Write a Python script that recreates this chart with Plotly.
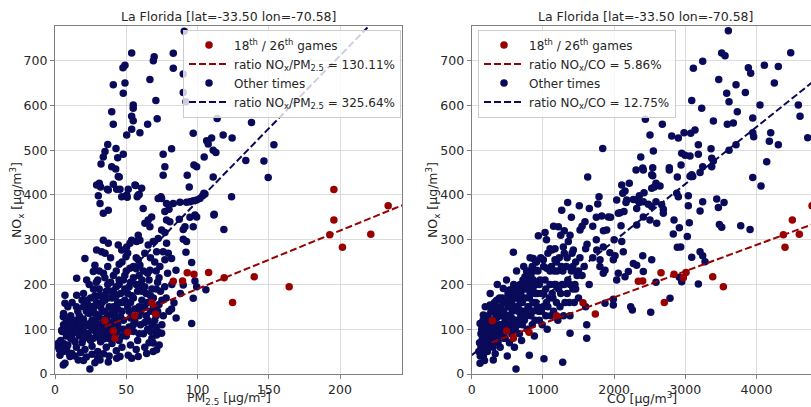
import plotly.graph_objects as go

# ---------------- data ----------------
title_text = "La Florida [lat=-33.50 lon=-70.58]"
xlabel_pm = "PM<sub>2.5</sub> [µg/m<sup>3</sup>]"
xlabel_co = "CO [µg/m<sup>3</sup>]"
ylabel = "NO<sub>x</sub> [µg/m<sup>3</sup>]"

# games (18th / 26th) : NOx, PM2.5, CO
game_nox = [412, 376, 344, 311, 312, 283, 217, 215, 195, 227, 223, 226, 208, 207, 160, 159, 134, 130, 119, 96, 93, 80]
game_pm25 = [195.7, 233.8, 195.7, 192.8, 221.6, 201.7, 139.8, 118.7, 164.3, 107.8, 97.5, 92.8, 89.5, 83, 124.6, 68, 70.6, 55.9, 35, 40.9, 51, 42]
game_co = [5000, 4780, 4503, 4377, 4601, 4400, 3385, 2972, 3534, 3010, 2841, 2659, 2401, 2340, 2705, 1563, 1736, 1193, 290, 491, 805, 585]

# other times, PM2.5 panel: (PM2.5, NOx)
other_pm_points = [
    (90.7, 766), (53.8, 717), (83, 716.5), (69.6, 709), (69, 700), (49.1, 690), (47.7, 684), (83, 683), (90, 670),
    (66.6, 658), (40.9, 646), (49.1, 650), (47.9, 627), (90, 629), (70.8, 611), (91.9, 608), (54.9, 601), (54.9, 594),
    (39.8, 586), (53.8, 576), (54.9, 566), (40.9, 558), (65, 558), (71.7, 570), (53.8, 547), (59.6, 539), (50.3, 534),
    (97, 538), (113.8, 571), (124.3, 527), (118, 534), (137.9, 562), (37, 513), (42.8, 504), (35.1, 497), (33.9, 485),
    (47.9, 491), (44, 483), (32.3, 469), (39.8, 463), (42.6, 458), (45.1, 440), (31.1, 426), (32, 418), (36.7, 413),
    (40.9, 424), (43.3, 413), (45.6, 413), (51.4, 413), (56.6, 421), (60.8, 415), (75.9, 491), (81.8, 503), (77.1, 463),
    (75.9, 444), (92.8, 444), (94.2, 418), (97.5, 467), (99.4, 463), (104.7, 485), (106.4, 521), (107.5, 514),
    (109.9, 527), (111, 500), (112.9, 495), (105.2, 402), (111, 440), (123.9, 396), (50.7, 395), (57.7, 396),
    (59.1, 401), (30.4, 398), (74.3, 396), (153.6, 512), (133.9, 477), (146.6, 476), (149.6, 439), (104.5, 404),
    (101.7, 392), (111.5, 355),
    (118.5, 323), (111.7, 357), (103.6, 398), (99.4, 389), (95.9, 113), (105.9, 188), (97, 169), (83.5, 159),
    (81.8, 145), (98.2, 208), (99.4, 195), (90, 199), (95.9, 249), (84.9, 232), (91.9, 272), (92.3, 296), (90, 301),
    (97, 329), (99.4, 351), (98.2, 355), (94.7, 350), (92.3, 384), (94.7, 385), (97, 387), (87.7, 384), (83, 381),
    (78.3, 381), (74.8, 392), (72.4, 392), (80, 368), (77.1, 363), (87.2, 346), (91.2, 329), (90, 323), (78.3, 344),
    (80.6, 340), (74.8, 322), (77.1, 316), (67.8, 351), (65.4, 344), (63.1, 337), (58.4, 310), (59.6, 299),
    (57.3, 296), (53.8, 299), (52.6, 292), (50.3, 284), (66.6, 329), (72.4, 303), (68.9, 296), (65.4, 288),
    (71.3, 273), (75.9, 273), (78.3, 292), (79.5, 270), (81.8, 258), (77.1, 255), (73.6, 240), (66.6, 232),
    (58.4, 255), (59.6, 243), (52.6, 236), (49.8, 262), (46.8, 277), (44.4, 288), (33.9, 299), (37.4, 292),
    (32.7, 273), (35.1, 270), (29.2, 277), (28, 243), (21, 258), (26.9, 229), (22.2, 210), (15.2, 214), (15.2, 176),
    (33.9, 359), (37.4, 366), (31.6, 381), (29.2, 422), (37.4, 411), (44.4, 441), (46.8, 396), (50.3, 400),
    (56.1, 422), (58.4, 400), (61.9, 370), (7, 176), (7, 158), (5.8, 128), (4.7, 98), (2.3, 69), (5.8, 50), (7, 24),
    (10.5, 39), (24.5, 11), (5.8, 20), (37.4, 27), (51.4, 42), (53.8, 35), (64.3, 46), (68.9, 50), (71.3, 54),
    (73.1, 65), (74.8, 91), (68.9, 69), (71.3, 87), (58.4, 39), (43.3, 35), (45.6, 39), (31.6, 31), (16.3, 31),
    (11.7, 46), (8.2, 54), (3.5, 42), (2.3, 61),
    (4, 75), (5, 95), (6, 110), (8, 85), (8, 120), (9, 65), (10, 100), (11, 130), (12, 78), (13, 92), (14, 112),
    (15, 60), (16, 140), (17, 85), (18, 102), (19, 70), (20, 122), (21, 55), (22, 90), (23, 108), (24, 135),
    (25, 75), (26, 62), (27, 98), (28, 118), (29, 84), (30, 50), (31, 128), (32, 72), (33, 105), (34, 92), (35, 140),
    (36, 60), (37, 80), (38, 115), (39, 100), (40, 68), (41, 130), (42, 88), (43, 52), (44, 110), (45, 75), (10, 45),
    (14, 40), (18, 48), (22, 38), (26, 44), (30, 35), (34, 45), (38, 40), (6, 135), (9, 150), (12, 160), (15, 150),
    (19, 165), (23, 155), (27, 148), (3, 55), (7, 58), (20, 30), (28, 25),
    (20, 180), (22, 165), (24, 200), (26, 150), (28, 175), (30, 210), (31, 190), (33, 140), (34, 225), (35, 165),
    (36, 185), (37, 240), (38, 150), (39, 205), (40, 170), (41, 220), (42, 135), (43, 195), (44, 160), (45, 245),
    (46, 180), (47, 140), (48, 210), (49, 165), (50, 230), (51, 150), (52, 195), (53, 125), (54, 175), (55, 215),
    (56, 145), (57, 260), (58, 185), (59, 130), (60, 200), (61, 165), (62, 230), (63, 150), (64, 180), (65, 120),
    (66, 210), (67, 140), (68, 190), (69, 170), (70, 250), (71, 130), (72, 205), (73, 155), (74, 185), (75, 110),
    (78, 170), (80, 140), (82, 200), (85, 125), (88, 180), (45, 100), (48, 120), (50, 85), (52, 105), (55, 95),
    (58, 75), (60, 110), (62, 90), (65, 100), (68, 80), (70, 120), (72, 95), (47, 60), (53, 65), (57, 55), (63, 60),
    (66, 70), (26, 120), (30, 130), (34, 118), (38, 132), (42, 122), (46, 128),
    (12, 105), (16, 118), (20, 95), (24, 82), (28, 105), (32, 88), (36, 98), (40, 110), (18, 125), (22, 140),
    (26, 100), (30, 112), (34, 78), (38, 90), (14, 72), (10, 88), (6, 68), (16, 100), (20, 78), (24, 112),
    (29, 160), (33, 175), (37, 200), (41, 185), (45, 210), (49, 190), (53, 160), (57, 200), (61, 185), (65, 160),
    (31, 230), (39, 260), (43, 230), (47, 250), (51, 270), (55, 240), (59, 220), (63, 270), (67, 260), (71, 230),
    (25, 170), (27, 190), (29, 205), (31, 175), (33, 160), (35, 215), (37, 170), (39, 185), (41, 150), (43, 175),
    (45, 200), (47, 160), (49, 220), (51, 180), (53, 205), (55, 170), (57, 235), (59, 150), (61, 210), (63, 195),
    (65, 225), (67, 175), (69, 150), (71, 190), (73, 215), (75, 165), (77, 195), (79, 225), (56, 120), (60, 140),
    (64, 130), (68, 110), (72, 140), (76, 130), (44, 145), (48, 100), (52, 140), (36, 125), (40, 145), (32, 150),
    (28, 135), (24, 145), (20, 150), (17, 130), (13, 120), (9, 110), (7, 95), (11, 80), (15, 95), (19, 110),
    (23, 90), (27, 80), (31, 95), (35, 105), (39, 80), (43, 95), (47, 85), (51, 95), (55, 110), (59, 90), (63, 115),
    (67, 95), (71, 105),
]

# other times, CO panel: (CO, NOx)
other_co_points = [
    (3604, 767), (3511, 717), (3558, 711), (3244, 699), (3113, 683), (3469, 658), (3581, 627), (3614, 608),
    (3090, 611), (3230, 594), (3394, 565), (3590, 558), (2439, 569), (2677, 558), (2809, 532), (2902, 527),
    (2982, 539), (3076, 538), (3136, 545), (2504, 534), (3183, 512), (3361, 503), (3614, 500), (1840, 504),
    (2551, 498), (2949, 493), (2996, 489), (3066, 487), (3183, 491), (3371, 482), (2374, 485), (2940, 467),
    (3244, 463), (3371, 463), (2402, 460), (2542, 461), (2775, 461), (2308, 456), (1629, 440), (2542, 443),
    (2888, 440), (3090, 445), (3104, 441), (2107, 422), (2213, 426), (2588, 426), (2645, 420), (2565, 418),
    (2153, 409), (2121, 404), (2354, 398), (2420, 405), (2528, 415), (2879, 404), (2902, 396), (3042, 398),
    (1788, 396), (2177, 389), (2167, 383), (2036, 389), (1770, 380), (1652, 370), (1511, 376), (1348, 383),
    (1264, 366), (2317, 389), (2354, 383), (2317, 370), (2480, 379), (2588, 385), (2691, 368), (3042, 376),
    (3244, 385), (3441, 391), (3544, 383), (3207, 364), (3464, 372), (2083, 360), (1826, 353), (1919, 351),
    (4480, 718), (4110, 690), (4306, 687), (3885, 684), (3918, 672), (4250, 650), (3712, 646), (3843, 629),
    (3730, 586), (4049, 601), (4587, 601), (4611, 576), (3947, 572), (3674, 561), (4719, 528), (4199, 539),
    (4180, 520), (4306, 512), (3947, 539), (3960, 530), (3712, 512), (3394, 476), (4143, 474), (3947, 439),
    (4063, 420),
    (2410, 456), (2528, 445), (2775, 456), (3066, 442), (3207, 450), (3056, 338), (3028, 307), (2916, 327),
    (2935, 284), (2841, 344), (2831, 313), (3478, 334), (3511, 328), (3778, 331), (3909, 323), (3207, 273),
    (3244, 264), (3090, 261), (3277, 251), (3183, 201), (2888, 283), (2916, 216), (2949, 206), (2785, 169),
    (2514, 138), (2256, 143), (2588, 205), (2270, 247), (2317, 243), (2402, 264), (2410, 229), (2528, 255),
    (2097, 331), (2107, 296), (2129, 273), (2200, 229), (2153, 217), (2059, 225), (1989, 255), (2013, 264),
    (1941, 271), (1896, 322), (1848, 284), (1756, 277), (1802, 255), (1872, 232), (2059, 359), (2139, 363),
    (2270, 390), (2410, 385), (2528, 374), (2410, 351), (2691, 359), (2668, 378), (2504, 344), (2598, 337),
    (2317, 333), (1848, 225), (1989, 167), (1872, 158), (1989, 154), (2036, 210), (1615, 110), (1615, 80),
    (1381, 91), (1278, 26), (1015, 34), (809, 42), (622, 11), (2233, 150),
    (585, 272), (936, 309), (1030, 316), (1217, 329), (1591, 340), (1521, 322), (1381, 310), (1357, 296),
    (1427, 277), (1287, 284), (1170, 255), (1124, 277), (865, 258), (1006, 255), (1053, 236), (913, 232),
    (749, 217), (865, 210), (678, 195), (538, 188), (444, 191), (351, 165), (257, 154), (163, 132), (117, 113),
    (211, 106), (140, 69), (163, 39), (303, 31), (117, 24),
    (1050, 300), (1150, 330), (1250, 310), (1400, 350), (1550, 330), (1700, 330), (1850, 320), (1950, 350),
    (2000, 300), (1100, 280), (1300, 320), (1600, 280), (1750, 350),
    (120, 40), (150, 60), (180, 30), (200, 80), (220, 50), (250, 100), (280, 70), (300, 120), (330, 45), (350, 90),
    (380, 140), (400, 60), (420, 110), (450, 80), (480, 160), (500, 40), (520, 130), (550, 95), (580, 180),
    (600, 60), (620, 150), (650, 110), (680, 200), (700, 75), (720, 140), (750, 170), (780, 100), (800, 210),
    (830, 130), (860, 190), (880, 85), (900, 160), (930, 230), (950, 120), (980, 180), (1000, 150), (1030, 210),
    (1060, 100), (1090, 170), (1120, 240), (1150, 140), (1180, 200), (1210, 120), (1250, 180), (1280, 230),
    (1310, 160), (1350, 210), (1380, 130), (1420, 190), (1460, 250), (1500, 170), (1550, 220), (1600, 150),
    (1650, 200), (130, 90), (160, 120), (190, 150), (230, 130), (260, 180), (290, 95), (320, 160), (360, 200),
    (390, 110), (430, 170), (460, 130), (490, 210), (530, 70), (560, 160), (590, 120), (630, 230), (660, 170),
    (690, 130), (730, 240), (760, 200), (790, 150), (820, 260), (850, 110), (870, 230), (910, 200), (940, 140),
    (970, 260), (1010, 180), (1040, 130), (1070, 270), (1100, 200), (1140, 170), (1170, 280), (1200, 230),
    (1240, 150), (1270, 200), (1300, 270), (1340, 180), (1400, 230), (1440, 160), (1480, 220), (110, 70),
    (140, 100), (170, 50), (210, 110), (240, 80), (270, 140), (310, 100), (340, 130), (370, 70), (410, 150),
    (440, 100), (470, 120), (510, 180), (540, 110), (570, 140), (610, 100), (640, 180), (670, 90), (710, 160),
    (740, 120), (770, 230), (810, 170), (840, 200), (890, 120), (920, 180), (960, 210), (990, 110), (1050, 160),
    (1110, 130), (1160, 230), (1190, 160), (1230, 260), (1290, 130), (1330, 240), (1370, 160), (1410, 270),
    (1450, 200), (1520, 260), (1580, 240), (1620, 290), (1700, 260), (1750, 300), (1800, 240),
    (150, 80), (190, 110), (230, 65), (270, 115), (310, 75), (350, 125), (390, 85), (430, 135), (470, 95),
    (510, 150), (560, 125), (610, 170), (660, 145), (710, 190), (760, 140), (810, 230), (860, 160), (910, 250),
    (100, 50), (130, 60), (160, 95), (200, 60), (230, 100), (260, 120), (290, 140), (320, 80), (350, 150),
    (380, 100), (410, 130), (440, 160), (470, 80), (500, 110), (530, 170), (560, 90), (590, 200), (620, 120),
    (650, 140), (680, 160), (710, 110), (740, 190), (770, 130), (800, 150), (830, 220), (860, 140), (890, 180),
    (920, 150), (950, 200), (980, 140), (1010, 240), (1040, 190), (1070, 150), (1100, 230), (1130, 180),
    (1160, 200), (1190, 250), (1220, 190), (1260, 240), (1300, 200), (1340, 260), (1380, 200), (1420, 240),
    (1460, 190), (1500, 230), (180, 70), (210, 90), (240, 120), (270, 90), (300, 60), (330, 110), (360, 130),
    (390, 170), (420, 90), (450, 140), (480, 110), (510, 130), (540, 150), (570, 110), (600, 170), (630, 190),
    (660, 120), (690, 180), (720, 210), (750, 130), (780, 190), (820, 180), (850, 240), (880, 200), (900, 250),
]

# fitted lines: slope (ratio) and intercept, x extent
ratio_pm_game, icpt_pm_game, xext_pm_game = 1.3011, 60.0, [35, 260]
ratio_pm_other, icpt_pm_other, xext_pm_other = 3.2564, 60.0, [0, 260]
ratio_co_game, icpt_co_game, xext_co_game = 0.0586, 54.0, [281, 5200]
ratio_co_other, icpt_co_other, xext_co_other = 0.1275, 42.0, [0, 5200]

yticks = [0, 100, 200, 300, 400, 500, 600, 700]
xticks_pm = [0, 50, 100, 150, 200]
xticks_co = [0, 1000, 2000, 3000, 4000]

# ---------------- style ----------------
RED = "#990000"
NAVY = "#0a0a5a"
FONT = "DejaVu Sans"
TXT = "#262626"
W, H = 811, 407

fig = go.Figure()


def add_panel(xa, ya, legend, pts, gx, gy, fit_game, fit_other, label_main):
    ox = [p[0] for p in pts]
    oy = [p[1] for p in pts]
    rg, ig, eg = fit_game
    ro, io, eo = fit_other
    fig.add_trace(go.Scatter(x=ox, y=oy, mode="markers", xaxis=xa, yaxis=ya, legend=legend,
                             marker=dict(color=NAVY, size=7.5, line=dict(width=0)),
                             name="Other times", legendrank=3))
    fig.add_trace(go.Scatter(x=eo, y=[io + ro * v for v in eo], mode="lines", xaxis=xa, yaxis=ya,
                             legend=legend, line=dict(color=NAVY, width=2, dash="7px,3px"),
                             name="ratio %s = %.2f%%" % (label_main, ro * 100), legendrank=4))
    fig.add_trace(go.Scatter(x=gx, y=gy, mode="markers", xaxis=xa, yaxis=ya, legend=legend,
                             marker=dict(color=RED, size=7.5, line=dict(width=0)),
                             name="18<sup>th</sup> / 26<sup>th</sup> games", legendrank=1))
    fig.add_trace(go.Scatter(x=eg, y=[ig + rg * v for v in eg], mode="lines", xaxis=xa, yaxis=ya,
                             legend=legend, line=dict(color=RED, width=2, dash="7px,3px"),
                             name="ratio %s = %.2f%%" % (label_main, rg * 100), legendrank=2))


add_panel("x", "y", "legend", other_pm_points, game_pm25, game_nox,
          (ratio_pm_game, icpt_pm_game, xext_pm_game), (ratio_pm_other, icpt_pm_other, xext_pm_other),
          "NO<sub>x</sub>/PM<sub>2.5</sub>")
add_panel("x2", "y2", "legend2", other_co_points, game_co, game_nox,
          (ratio_co_game, icpt_co_game, xext_co_game), (ratio_co_other, icpt_co_other, xext_co_other),
          "NO<sub>x</sub>/CO")

ydom = [(H - 374) / H, (H - 26) / H]
axis_common = dict(showgrid=True, gridcolor="#dcdcdc", gridwidth=1, zeroline=False,
                   showline=True, linecolor="#808080", linewidth=1.2, automargin=False,
                   ticks="outside", ticklen=4, tickcolor="#808080",
                   tickfont=dict(family=FONT, size=12.5, color=TXT))

LEG_FONT = dict(family=FONT, size=12, color=TXT)
ANN_FONT = dict(family=FONT, size=12.5, color=TXT)


def ann(text, x, y, angle=0):
    return dict(text=text, x=x / W, y=(H - y) / H, xref="paper", yref="paper", showarrow=False,
                xanchor="center", yanchor="middle", textangle=angle, font=ANN_FONT)


fig.update_layout(
    width=W, height=H,
    margin=dict(l=0, r=0, t=0, b=0),
    paper_bgcolor="white", plot_bgcolor="white",
    font=dict(family=FONT, size=12, color=TXT),
    showlegend=True,
    xaxis=dict(axis_common, domain=[55 / W, 402 / W], range=[0, 243.5], tickvals=xticks_pm,
               mirror=True, anchor="y"),
    yaxis=dict(axis_common, domain=ydom, range=[0, 777.5], tickvals=yticks, mirror=True, anchor="x"),
    xaxis2=dict(axis_common, domain=[471.7 / W, 1.0], range=[0, 4765], tickvals=xticks_co,
                mirror=True, anchor="y2"),
    yaxis2=dict(axis_common, domain=ydom, range=[0, 777.5], tickvals=yticks, mirror=False, anchor="x2"),
    legend=dict(x=401 / W, xanchor="right", y=(H - 29.5) / H, yanchor="top",
                bgcolor="rgba(255,255,255,0.8)", bordercolor="#cccccc", borderwidth=1,
                font=LEG_FONT, tracegroupgap=0, itemwidth=40),
    legend2=dict(x=478 / W, xanchor="left", y=(H - 29.5) / H, yanchor="top",
                 bgcolor="rgba(255,255,255,0.8)", bordercolor="#cccccc", borderwidth=1,
                 font=LEG_FONT, tracegroupgap=0, itemwidth=40),
    annotations=[
        ann(title_text, (55 + 402) / 2, 17),
        ann(title_text, (472 + 819) / 2, 17),
        ann(xlabel_pm, (55 + 402) / 2, 398),
        ann(xlabel_co, (472 + 819) / 2 - 4, 398),
        ann(ylabel, 17, 200, -90),
        ann(ylabel, 433, 200, -90),
    ],
)

fig.write_html("out.html")
